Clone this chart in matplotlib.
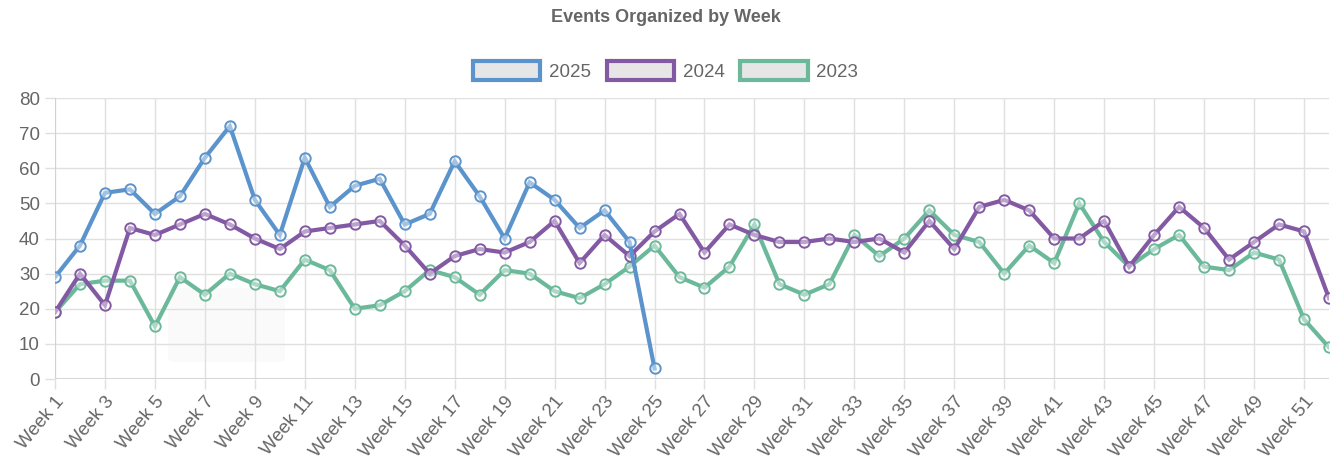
import matplotlib
matplotlib.use("Agg")
import matplotlib.pyplot as plt
from matplotlib.patches import Patch, FancyBboxPatch

weeks = [f"Week {i}" for i in range(1, 53)]
series_labels = ["2025", "2024", "2023"]
v2025 = [29, 38, 53, 54, 47, 52, 63, 72, 51, 41, 63, 49, 55, 57, 44, 47, 62, 52,
         40, 56, 51, 43, 48, 39, 3]
v2024 = [19, 30, 21, 43, 41, 44, 47, 44, 40, 37, 42, 43, 44, 45, 38, 30, 35, 37,
         36, 39, 45, 33, 41, 35, 42, 47, 36, 44, 41, 39, 39, 40, 39, 40, 36, 45,
         37, 49, 51, 48, 40, 40, 45, 32, 41, 49, 43, 34, 39, 44, 42, 23]
v2023 = [19, 27, 28, 28, 15, 29, 24, 30, 27, 25, 34, 31, 20, 21, 25, 31, 29, 24,
         31, 30, 25, 23, 27, 32, 38, 29, 26, 32, 44, 27, 24, 27, 41, 35, 40, 48,
         41, 39, 30, 38, 33, 50, 39, 32, 37, 41, 32, 31, 36, 34, 17, 9]
colors = ["#5b93cc", "#8359a3", "#6bb99a"]
yticks = [0, 10, 20, 30, 40, 50, 60, 70, 80]

plt.rcParams['font.family'] = ['Liberation Sans', 'DejaVu Sans']
W, H = 1331, 465
fig = plt.figure(figsize=(W / 100, H / 100), dpi=100)
ax = fig.add_axes([55 / W, 1 - 379 / H, 1274 / W, 281 / H])
ax.set_facecolor("none")

# faint background artifact
ax.add_patch(FancyBboxPatch((168 / W, 1 - 362 / H), 117 / W, 74 / H,
                            boxstyle="round,pad=0,rounding_size=0.008",
                            transform=fig.transFigure, facecolor="#fafafa",
                            edgecolor="none", zorder=0.1, clip_on=False))

x = list(range(len(weeks)))
data = [v2025, v2024, v2023]
for i in [2, 1, 0]:
    vals = data[i]
    ax.plot(x[:len(vals)], vals, color=colors[i], lw=3.0, marker="o", ms=7.5,
            mfc=(1, 1, 1, 0.45), mec=colors[i], mew=1.4, zorder=3 + (2 - i),
            solid_joinstyle="miter")

ax.set_xlim(0, len(weeks) - 1)
ax.set_ylim(0, 80)
ax.set_yticks(yticks)
ax.set_yticklabels([str(t) for t in yticks])
ax.set_xticks(x[::2])
ax.set_xticklabels(weeks[::2], rotation=50, ha="right", rotation_mode="anchor")
ax.tick_params(axis="both", colors="#666666", labelsize=13.5, length=7, width=1,
               direction="out")
ax.tick_params(axis="x", color="#e0e0e0", pad=3)
ax.tick_params(axis="y", color="#e0e0e0", pad=4)
ax.grid(True, color="#e0e0e0", lw=1, zorder=0.5)
ax.set_axisbelow(True)
for s in ax.spines.values():
    s.set_visible(False)
ax.axhline(0, color="#d0d0d0", lw=1.2, zorder=1)
ax.axvline(0, color="#d0d0d0", lw=1.2, zorder=1)

fig.text(0.5, 1 - 17 / H, "Events Organized by Week", ha="center", va="center",
         fontsize=13, fontweight="bold", color="#666666")

handles = [Patch(facecolor="#e6e6e6", edgecolor=c, linewidth=3) for c in colors]
leg = fig.legend(handles, series_labels, loc="center", bbox_to_anchor=(0.5, 1 - 71 / H),
                 ncol=3, frameon=False, fontsize=13.5, handlelength=3.6,
                 handleheight=1.2, handletextpad=0.45, columnspacing=0.85,
                 labelcolor="#666666", borderaxespad=0)

fig.savefig("out.png", dpi=100)
